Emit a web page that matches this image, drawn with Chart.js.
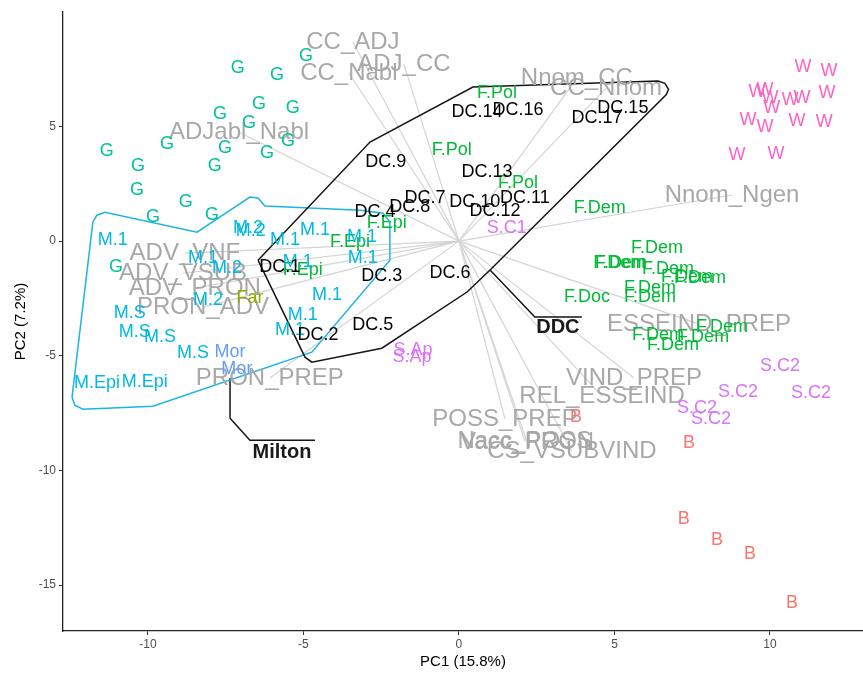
<!DOCTYPE html>
<html lang="en">

<head>
  <meta charset="UTF-8">
  <title>PCA biplot</title>
  <script src="https://cdn.jsdelivr.net/npm/chart.js"></script>
  <style>
    body { margin: 0; background: #fff; }
    #chartContainer { width: 863px; height: 673px; }
  </style>
</head>

<body>
  <div id="chartContainer">
    <canvas id="biplot"></canvas>
  </div>

  <script>
    // variable loadings (arrow tips) and their names
    const loadNames = ["CC_ADJ", "ADJ_CC", "CC_Nabl", "ADJabl_Nabl", "Nnom_CC", "CC_Nnom", "Nnom_Ngen",
      "ADV_VNF", "ADV_VSUB", "ADV_PRON", "PRON_ADV", "PRON_PREP", "ESSEIND_PREP", "VIND_PREP",
      "REL_ESSEIND", "POSS_PREP", "Nacc_POSS", "Vacc_PRON", "CS_VSUBVIND"];
    const loadX = [-3.41, -1.77, -3.54, -7.07, 3.79, 4.73, 8.78, -8.81, -8.87, -8.49, -8.23, -6.08, 7.72, 5.63, 4.60, 1.48, 2.12, 2.19, 3.63];
    const loadY = [8.68, 7.72, 7.33, 4.75, 7.11, 6.67, 2.01, -0.52, -1.40, -2.05, -2.88, -5.97, -3.62, -5.97, -6.76, -7.76, -8.72, -8.77, -9.16];

    // individuals, one list per group: [label, PC1, PC2]
    const gPts = [[-4.92, 8.07], [-7.11, 7.54], [-5.85, 7.24], [-6.43, 5.97], [-5.34, 5.80], [-7.68, 5.54], [-6.75, 5.15],
      [-9.39, 4.23], [-11.32, 3.92], [-7.52, 4.06], [-5.50, 4.36], [-6.17, 3.84], [-10.32, 3.27], [-7.85, 3.27],
      [-10.35, 2.22], [-8.78, 1.70], [-9.84, 1.05], [-7.94, 1.13], [-11.03, -1.13]];
    const wPts = [[11.06, 7.59], [11.90, 7.41], [9.58, 6.50], [9.84, 6.59], [10.00, 6.24], [10.06, 5.80], [10.64, 6.15],
      [11.03, 6.24], [11.83, 6.45], [9.29, 5.28], [9.84, 4.97], [10.87, 5.23], [11.74, 5.19], [8.94, 3.75], [10.19, 3.79]];
    const bPts = [[3.76, -7.68], [7.40, -8.81], [7.23, -12.12], [8.30, -13.04], [9.36, -13.65], [10.71, -15.79]];
    const sPts = [["S.C2", 10.32, -5.45], ["S.C2", 8.97, -6.59], ["S.C2", 11.32, -6.63], ["S.C2", 7.65, -7.28],
      ["S.C2", 8.10, -7.76], ["S.C1", 1.54, 0.57], ["S.Ap", -1.48, -4.75], ["S.Ap", -1.51, -5.06]];
    const fPts = [["F.Dem", 6.37, -0.31], ["F.Dem", 5.15, -0.96], ["F.Dem", 5.21, -0.96], ["F.Dem", 6.72, -1.22],
      ["F.Dem", 7.33, -1.57], ["F.Dem", 7.75, -1.61], ["F.Dem", 6.14, -2.05], ["F.Dem", 6.14, -2.44],
      ["F.Dem", 8.46, -3.75], ["F.Dem", 6.40, -4.10], ["F.Dem", 7.85, -4.19], ["F.Dem", 6.88, -4.54],
      ["F.Dem", 4.53, 1.44], ["F.Doc", 4.12, -2.44], ["F.Pol", 1.22, 6.45], ["F.Pol", -0.23, 3.97],
      ["F.Pol", 1.90, 2.53], ["F.Epi", -2.32, 0.79], ["F.Epi", -3.50, -0.04], ["F.Epi", -5.02, -1.26]];
    const mPts = [["M.2", -6.78, 0.57], ["M.2", -6.69, 0.44], ["M.1", -4.63, 0.48], ["M.1", -5.59, 0.04],
      ["M.1", -11.13, 0.04], ["M.1", -8.23, -0.74], ["M.2", -7.46, -1.18], ["M.1", -5.18, -0.92],
      ["M.1", -4.24, -2.36], ["M.2", -8.07, -2.57], ["M.1", -5.02, -3.23], ["M.1", -5.43, -3.88],
      ["M.1", -3.12, 0.17], ["M.1", -3.09, -0.74], ["M.S", -10.58, -3.14], ["M.S", -10.42, -3.97],
      ["M.S", -9.61, -4.19], ["M.S", -8.55, -4.88], ["M.Epi", -11.64, -6.19], ["M.Epi", -10.10, -6.15]];
    const morPts = [[-7.36, -4.84], [-7.14, -5.58]];
    const farPts = [[-6.72, -2.49]];
    const dcPts = [["DC.1", -5.76, -1.13], ["DC.2", -4.53, -4.10], ["DC.3", -2.48, -1.53], ["DC.4", -2.70, 1.26],
      ["DC.5", -2.77, -3.66], ["DC.6", -0.29, -1.40], ["DC.7", -1.09, 1.88], ["DC.8", -1.58, 1.48],
      ["DC.9", -2.35, 3.45], ["DC.10", 0.51, 1.70], ["DC.11", 2.12, 1.88], ["DC.12", 1.16, 1.31],
      ["DC.13", 0.90, 3.01], ["DC.14", 0.58, 5.63], ["DC.15", 5.27, 5.80], ["DC.16", 1.90, 5.71], ["DC.17", 4.44, 5.36]];

    // hull outlines and their labels
    const hullDDC = [[-6.46, -0.83], [-2.86, 4.32], [0.45, 6.72], [6.40, 6.98], [6.62, 6.88], [6.74, 6.62], [6.66, 6.38],
      [1.00, -1.26], [0.26, -2.22], [-2.48, -4.67], [-4.73, -5.28], [-4.95, -5.06], [-6.46, -0.83]];
    const hullMilton = [[-11.77, 0.83], [-11.64, 1.13], [-11.38, 1.26], [-8.42, 0.39], [-6.72, 1.92], [-6.46, 1.88],
      [-6.24, 1.53], [-3.18, 1.35], [-2.44, 1.22], [-2.22, 0.83], [-2.22, -0.83], [-4.73, -4.84], [-9.84, -7.20],
      [-12.09, -7.33], [-12.35, -7.15], [-12.44, -6.80], [-11.77, 0.83]];
    const leaderDDC = [[1.00, -1.26], [2.44, -3.31], [3.95, -3.31]];
    const leaderMilton = [[-7.36, -5.97], [-7.36, -7.72], [-6.72, -8.68], [-4.63, -8.68]];
    const hullNames = ["DDC", "Milton"];
    const hullNameX = [3.18, -5.69];
    const hullNameY = [-3.75, -9.20];

    const FONT = '"Liberation Sans", Arial, sans-serif';
    Chart.defaults.font.family = FONT;

    const xy = pts => pts.map(p => ({ x: p[0], y: p[1] }));
    const lxy = pts => pts.map(p => ({ x: p[1], y: p[2] }));

    function lineSet(points, color, width) {
      return { type: 'line', data: xy(points), borderColor: color, borderWidth: width, pointRadius: 0, fill: false, tension: 0 };
    }
    function textSet(data, texts, color, size, weight) {
      return { type: 'scatter', data: data, pointRadius: 0, texts: texts, textColor: color, textFont: (weight || 'normal') + ' ' + size + 'px ' + FONT };
    }

    const datasets = [];
    datasets.push(lineSet(hullDDC, '#151515', 1.5));
    datasets.push(lineSet(hullMilton, '#1cb4e4', 1.5));
    datasets.push(lineSet(leaderDDC, '#151515', 1.5));
    datasets.push(lineSet(leaderMilton, '#151515', 1.5));
    loadNames.forEach((n, i) => datasets.push(lineSet([[0, 0], [loadX[i], loadY[i]]], '#d4d4d4', 1.2)));

    datasets.push(textSet(loadX.map((x, i) => ({ x: x, y: loadY[i] })), loadNames, '#a8a8a8', 24));
    datasets.push(textSet(xy(gPts), gPts.map(() => 'G'), '#00C19F', 18));
    datasets.push(textSet(xy(wPts), wPts.map(() => 'W'), '#FF61C3', 18));
    datasets.push(textSet(xy(bPts), bPts.map(() => 'B'), '#F8766D', 18));
    datasets.push(textSet(lxy(sPts), sPts.map(p => p[0]), '#DB72FB', 18));
    datasets.push(textSet(lxy(fPts), fPts.map(p => p[0]), '#00BA38', 18));
    datasets.push(textSet(lxy(mPts), mPts.map(p => p[0]), '#00B9E3', 18));
    datasets.push(textSet(xy(morPts), morPts.map(() => 'Mor'), '#619CFF', 18));
    datasets.push(textSet(xy(farPts), farPts.map(() => 'Far'), '#93AA00', 18));
    datasets.push(textSet(lxy(dcPts), dcPts.map(p => p[0]), '#000000', 18));
    datasets.push(textSet(hullNameX.map((x, i) => ({ x: x, y: hullNameY[i] })), hullNames, '#1a1a1a', 20, 'bold'));

    const textPlugin = {
      id: 'textLabels',
      afterDatasetsDraw(chart) {
        const ctx = chart.ctx;
        ctx.save();
        ctx.textAlign = 'center';
        ctx.textBaseline = 'middle';
        chart.data.datasets.forEach((ds, i) => {
          if (!ds.texts) return;
          const meta = chart.getDatasetMeta(i);
          ctx.font = ds.textFont;
          ctx.fillStyle = ds.textColor;
          meta.data.forEach((el, j) => ctx.fillText(ds.texts[j], el.x, el.y));
        });
        ctx.restore();
      }
    };

    const ctx = document.getElementById('biplot').getContext('2d');
    new Chart(ctx, {
      type: 'scatter',
      data: { datasets: datasets },
      plugins: [textPlugin],
      options: {
        responsive: true,
        maintainAspectRatio: false,
        animation: false,
        layout: { padding: { top: 12, left: 0, right: 0, bottom: 0 } },
        plugins: { legend: { display: false }, tooltip: { enabled: false } },
        scales: {
          x: {
            type: 'linear', min: -12.73, max: 12.99,
            afterFit: s => { s.height = 42; },
            ticks: { stepSize: 5, includeBounds: false, color: '#4d4d4d', font: { size: 12 }, padding: 2, maxRotation: 0 },
            grid: { drawOnChartArea: false, drawTicks: true, tickLength: 4, color: '#333' },
            border: { color: '#222', width: 1.3 },
            title: { display: true, text: 'PC1 (15.8%)', color: '#000', font: { size: 15 }, padding: { top: 0, bottom: 2 } }
          },
          y: {
            type: 'linear', min: -17.0, max: 9.99,
            afterFit: s => { s.width = 63; },
            ticks: { stepSize: 5, includeBounds: false, color: '#4d4d4d', font: { size: 12 }, padding: 3 },
            grid: { drawOnChartArea: false, drawTicks: true, tickLength: 4, color: '#333' },
            border: { color: '#222', width: 1.3 },
            title: { display: true, text: 'PC2 (7.2%)', color: '#000', font: { size: 15 }, padding: { top: 12, bottom: 0 } }
          }
        }
      }
    });
  </script>
</body>

</html>
